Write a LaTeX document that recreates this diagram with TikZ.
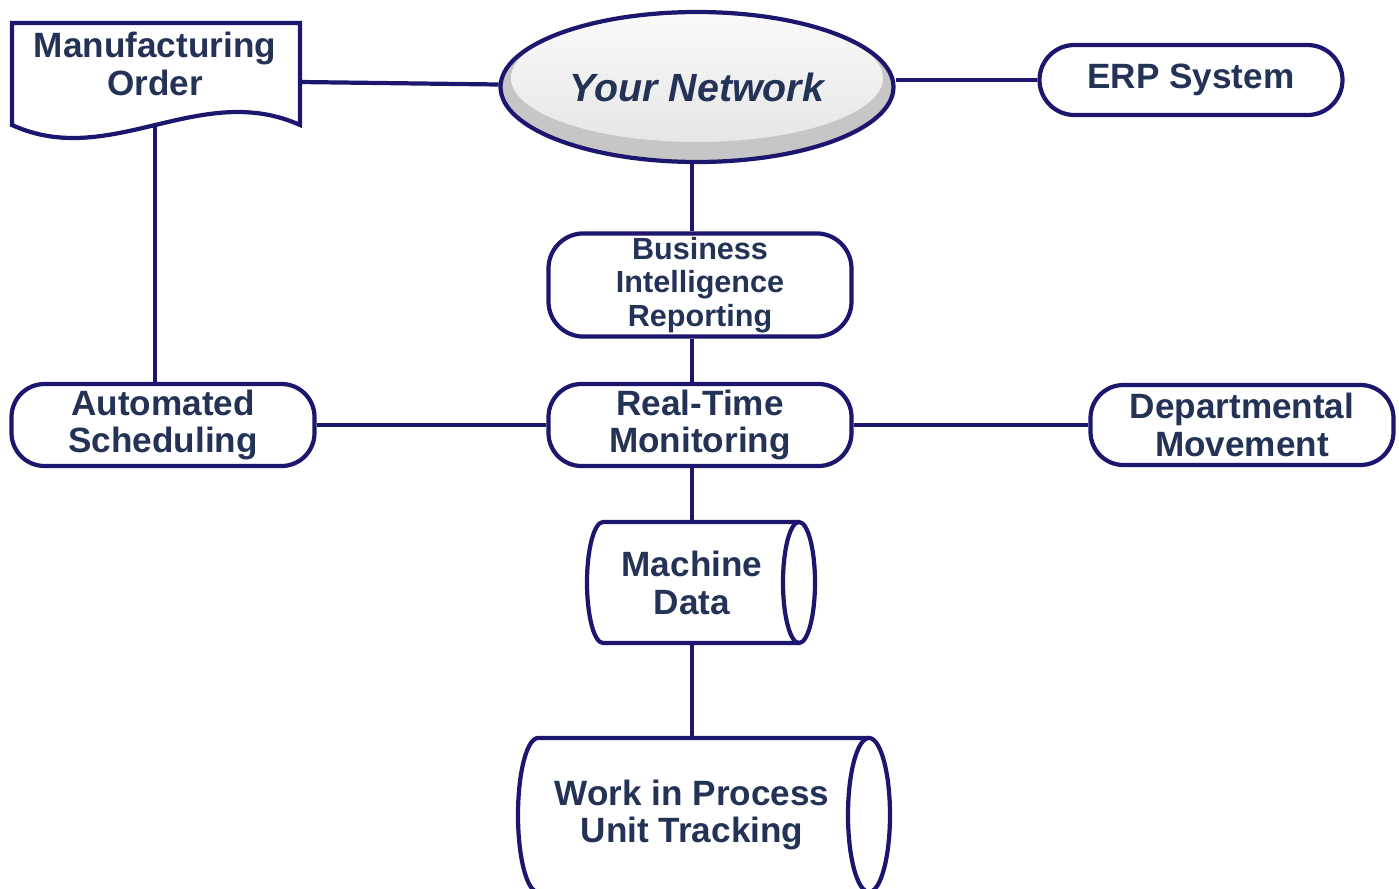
\documentclass[tikz,border=0pt]{standalone}
\usepackage{fontspec}
\setmainfont{Liberation Sans}
\usetikzlibrary{shapes.geometric}

\definecolor{lineblue}{RGB}{28,22,110}
\definecolor{textblue}{RGB}{35,50,85}

\begin{document}
\begin{tikzpicture}[line width=1.2pt,
    every node/.style={font=\bfseries\fontsize{10pt}{10.8pt}\selectfont, text=textblue, align=center},
    pill/.style={draw=lineblue, fill=white, rounded corners=0.33cm, minimum width=3.03cm, minimum height=0.82cm, inner sep=1pt},
    store/.style={inner sep=1pt}]

  \useasboundingbox (0,0) rectangle (13.99,8.88);

  % Define the manufacturing order as a document shape
  \draw[lineblue, fill=white] (0.12,8.65) -- (3.00,8.65) -- (3.00,7.63)
    .. controls (2.00,8.08) and (1.10,7.18) .. (0.12,7.63) -- cycle;
  \node (morder) at (1.55,8.24) {Manufacturing\\Order};
  \coordinate (morder-e) at (3.00,8.06);
  \coordinate (morder-s) at (1.55,7.63);

  % Define the network disk
  \node[ellipse, draw=lineblue, fill=gray!45, minimum width=3.77cm, minimum height=1.50cm,
    font=\bfseries\itshape\fontsize{11.2pt}{12pt}\selectfont,
    path picture={\shade[top color=gray!4, bottom color=gray!22]
      ([yshift=0.09cm]path picture bounding box.center) ellipse (1.86cm and 0.64cm);}]
    (net) at (6.97,8.01) {Your Network};

  % Define the boxes
  \node[pill, minimum height=0.70cm, rounded corners=0.35cm] (erp) at (11.91,8.08) {ERP System};
  \node[pill, minimum height=1.00cm, rounded corners=0.35cm,
    font=\bfseries\fontsize{8.7pt}{9.6pt}\selectfont] (bi) at (7.00,6.03) {Business\\Intelligence\\Reporting};
  \node[pill] (rt) at (7.00,4.63) {Real-Time\\Monitoring};
  \node[pill] (sched) at (1.63,4.63) {Automated\\Scheduling};
  \node[pill, minimum height=0.80cm] (dept) at (12.42,4.63) {Departmental\\Movement};

  % Define the data stores as lying cylinders
  \draw[lineblue, fill=white] (7.99,3.66) -- (6.03,3.66) arc (90:270:0.16 and 0.605) -- (7.99,2.45);
  \draw[lineblue, fill=white] (7.99,3.055) ellipse (0.16 and 0.605);
  \node[store, minimum width=1.90cm, minimum height=1.21cm] (md) at (6.92,3.055) {Machine\\Data};

  \draw[lineblue, fill=white] (8.69,1.50) -- (5.38,1.50) arc (90:270:0.20 and 0.77) -- (8.69,-0.04);
  \draw[lineblue, fill=white] (8.69,0.73) ellipse (0.21 and 0.77);
  \node[store, minimum width=3.00cm, minimum height=1.54cm] (wip) at (6.92,0.73) {Work in Process\\Unit Tracking};

  % Draw the connectors
  \draw[lineblue] (morder-e) -- (net);
  \draw[lineblue] (erp.west) -- (erp.west -| net.east);
  \draw[lineblue] (net.south -| 6.92,0) -- (bi.north -| 6.92,0);
  \draw[lineblue] (bi.south -| 6.92,0) -- (rt.north -| 6.92,0);
  \draw[lineblue] (morder-s) -- (morder-s |- sched.north);
  \draw[lineblue] (sched) -- (rt);
  \draw[lineblue] (rt) -- (dept);
  \draw[lineblue] (rt.south -| md) -- (md);
  \draw[lineblue] (md.south) -- (wip.north);

\end{tikzpicture}
\end{document}
